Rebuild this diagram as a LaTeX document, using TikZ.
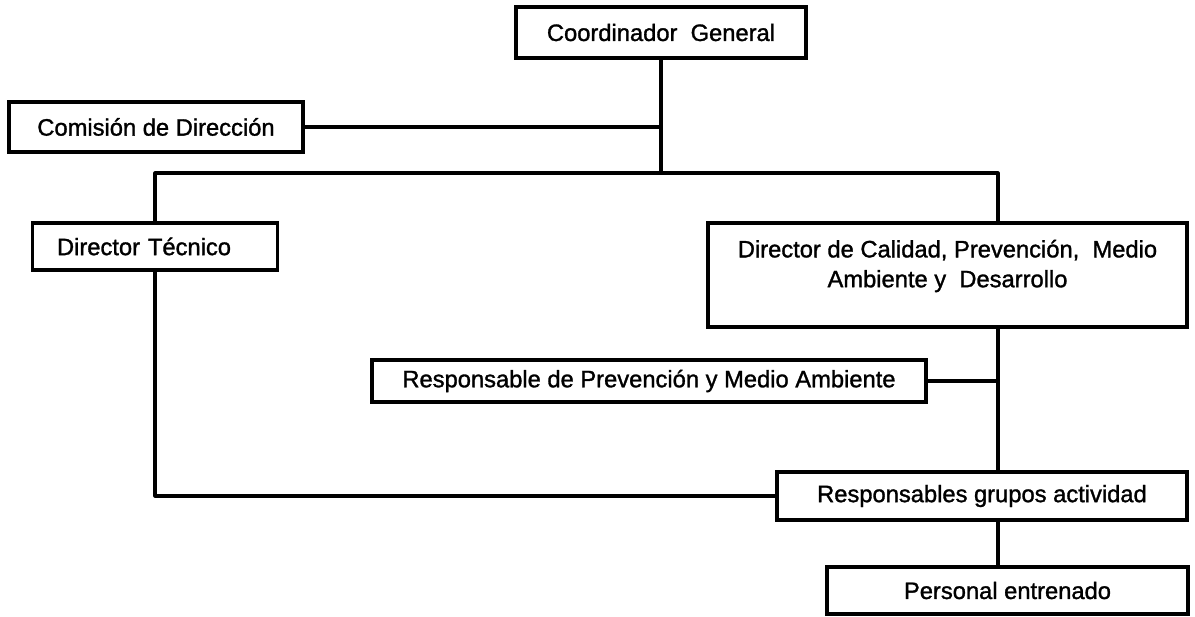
\documentclass[tikz,border=0pt]{standalone}
\usepackage{fontspec}
\setmainfont{Liberation Sans}[BoldFont=Liberation Sans,BoldFeatures={FakeBold=1.3}]
\usetikzlibrary{positioning}

\begin{document}
\begin{tikzpicture}[
    box/.style={draw,fill=white,line width=1.8pt,inner sep=0pt,outer sep=0pt,
      align=center,font=\fontsize{13.5}{17}\selectfont\bfseries},
    link/.style={line width=1.8pt,line cap=round,line join=round}]
    \useasboundingbox (0,0) rectangle (23.9,12.32);
    \node[box,minimum width=5.8cm,minimum height=1.02cm] (coord) at (13.22,11.67) {Coordinador\ \ General};
    \node[box,minimum width=5.88cm,minimum height=1.0cm] (comision) at (3.12,9.78) {Comisión de Dirección};
    \node[box,minimum width=4.9cm,minimum height=0.94cm,text width=3.92cm,align=left] (tecnico) at (3.1,7.39) {Director Técnico};
    \node[box,minimum width=9.58cm,minimum height=2.08cm] (calidad) at (18.95,6.82)
      {Director de Calidad, Prevención,\ \ Medio\\ Ambiente y\ \ Desarrollo\\[-4pt]\mbox{}};
    \node[box,minimum width=11.08cm,minimum height=0.84cm] (prevencion) at (12.98,4.7) {Responsable de Prevención y Medio Ambiente};
    \node[box,minimum width=8.2cm,minimum height=0.96cm] (grupos) at (19.64,2.4) {Responsables grupos actividad};
    \node[box,minimum width=7.22cm,minimum height=0.94cm] (personal) at (20.15,0.51) {Personal entrenado};
    % horizontal bus under the trunk
    \coordinate (busL) at (3.1,8.86);
    \coordinate (busR) at (19.96,8.86);
    \draw[link] (coord.south) -- (coord.south |- busL);
    \draw[link] (comision.east) -- (comision.east -| coord.south);
    \draw[link] (tecnico.north) -- (busL) -- (busR) -- (busR |- calidad.north);
    \draw[link] (tecnico.south) |- (grupos.west);
    \draw[link] (busR |- calidad.south) -- (busR |- grupos.north);
    \draw[link] (prevencion.east) -- (prevencion.east -| busR);
    \draw[link] (busR |- grupos.south) -- (busR |- personal.north);
  \end{tikzpicture}
\end{document}
